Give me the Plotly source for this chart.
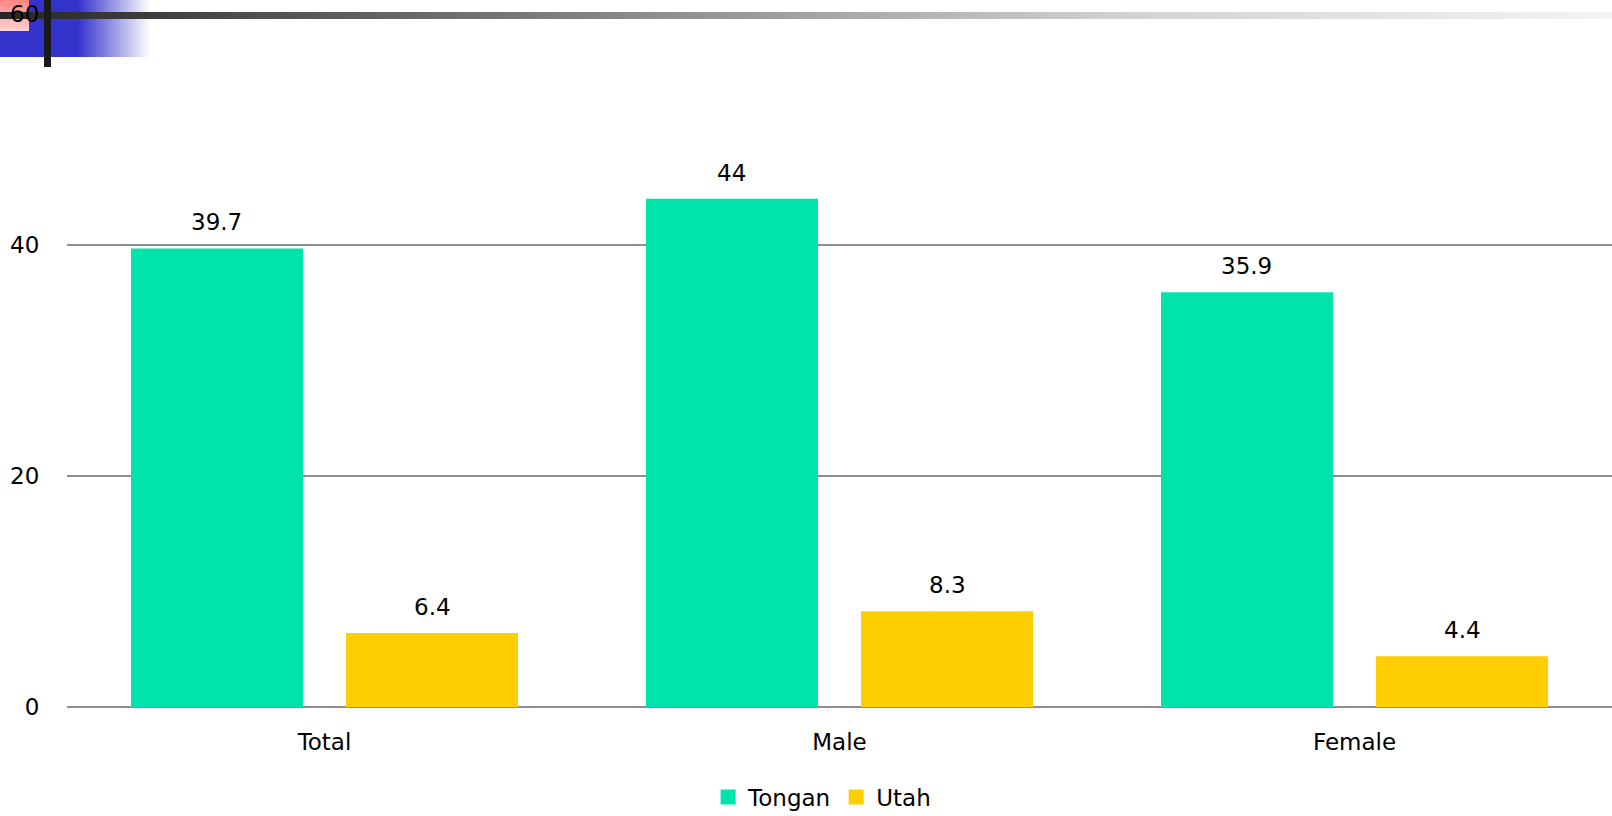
import base64
import plotly.graph_objects as go

# ---- data -------------------------------------------------------------
categories = ["Total", "Male", "Female"]
tongan = [39.7, 44, 35.9]
utah = [6.4, 8.3, 4.4]
series_names = ["Tongan", "Utah"]
series_colors = ["#00E4AB", "#FFCE00"]
y_ticks = [0, 20, 40, 60]

# ---- page geometry ----------------------------------------------------
W, H = 1612, 816
M_L, M_R, M_T, M_B = 67, 0, 14, 109
PW, PH = W - M_L - M_R, H - M_T - M_B
BARGAP, BARGROUPGAP = 0.165, 0.2
FONT = "DejaVu Sans"
FS = 23
LEGEND_Y_PX = 797  # vertical centre of the legend row, from the top

# ---- slide header ornament (gradient bars in the top-left corner) ----
ornament = f"""<svg xmlns='http://www.w3.org/2000/svg' width='{W}' height='{H}' viewBox='0 0 {W} {H}'>
<defs>
<linearGradient id='blue' x1='0' y1='0' x2='1' y2='0'>
<stop offset='0' stop-color='#3333CC'/><stop offset='0.52' stop-color='#3333CC'/>
<stop offset='1' stop-color='#3333CC' stop-opacity='0'/></linearGradient>
<linearGradient id='pink' x1='0' y1='0' x2='0' y2='1'>
<stop offset='0' stop-color='#FF8484'/><stop offset='1' stop-color='#FFD2D2'/></linearGradient>
<linearGradient id='band' x1='0' y1='0' x2='1' y2='0'>
<stop offset='0' stop-color='#262626'/><stop offset='0.05' stop-color='#333333'/>
<stop offset='0.4' stop-color='#8C8C8C'/><stop offset='0.7' stop-color='#D2D2D2'/>
<stop offset='1' stop-color='#F4F4F4'/></linearGradient>
</defs>
<rect x='0' y='0' width='150' height='57' fill='url(#blue)'/>
<rect x='0' y='0' width='29' height='31' fill='url(#pink)'/>
<rect x='0' y='12' width='{W}' height='7' fill='url(#band)'/>
<rect x='44' y='0' width='7' height='67' fill='#1A1A1A'/>
</svg>"""
ornament_uri = "data:image/svg+xml;base64," + base64.b64encode(ornament.encode()).decode()

fig = go.Figure()
for name, vals, col in zip(series_names, [tongan, utah], series_colors):
    fig.add_trace(go.Bar(
        name=name, x=categories, y=vals, showlegend=False,
        marker=dict(color=col, line=dict(width=0)),
    ))
# square legend keys
for name, col in zip(series_names, series_colors):
    fig.add_trace(go.Scatter(
        name=name, x=[None], y=[None], mode="markers",
        marker=dict(symbol="square", size=15, color=col, line=dict(width=0)),
        showlegend=True, hoverinfo="skip",
    ))

# value labels above each bar, placed at the bar centres of the group
half = (1 - BARGAP) / 4
annotations = []
for s, vals in enumerate([tongan, utah]):
    off = -half if s == 0 else half
    for i, v in enumerate(vals):
        annotations.append(dict(
            x=i + off, y=v, xref="x", yref="y", text=f"{v:g}",
            showarrow=False, yanchor="bottom", yshift=11,
            font=dict(family=FONT, size=FS, color="#000000"),
        ))

fig.update_layout(
    width=W, height=H,
    margin=dict(l=M_L, r=M_R, t=M_T, b=M_B, pad=0),
    paper_bgcolor="#FFFFFF", plot_bgcolor="rgba(0,0,0,0)",
    barmode="group", bargap=BARGAP, bargroupgap=BARGROUPGAP,
    font=dict(family=FONT, size=FS, color="#000000"),
    annotations=annotations,
    showlegend=True,
    legend=dict(
        orientation="h", xref="container", yref="container",
        x=0.510, xanchor="center", y=1 - LEGEND_Y_PX / H, yanchor="middle",
        font=dict(family=FONT, size=FS), bgcolor="rgba(0,0,0,0)",
        itemsizing="trace", traceorder="normal", itemwidth=30,
    ),
    xaxis=dict(
        type="category", showgrid=False, showline=False, zeroline=False,
        ticks="outside", ticklen=14, tickcolor="rgba(0,0,0,0)",
        tickfont=dict(family=FONT, size=FS, color="#000000"),
    ),
    yaxis=dict(
        range=[0, 60], tickvals=y_ticks, showgrid=True,
        gridcolor="#8F8F8F", gridwidth=2,
        zeroline=True, zerolinecolor="#8F8F8F", zerolinewidth=2,
        showline=False, ticks="outside", ticklen=22, tickcolor="rgba(0,0,0,0)",
        tickfont=dict(family=FONT, size=FS, color="#000000"),
    ),
    images=[dict(
        source=ornament_uri, xref="paper", yref="paper",
        x=-M_L / PW, y=(PH + M_T) / PH, sizex=W / PW, sizey=H / PH,
        xanchor="left", yanchor="top", sizing="stretch", layer="below",
    )],
)

fig.write_html("out.html")
